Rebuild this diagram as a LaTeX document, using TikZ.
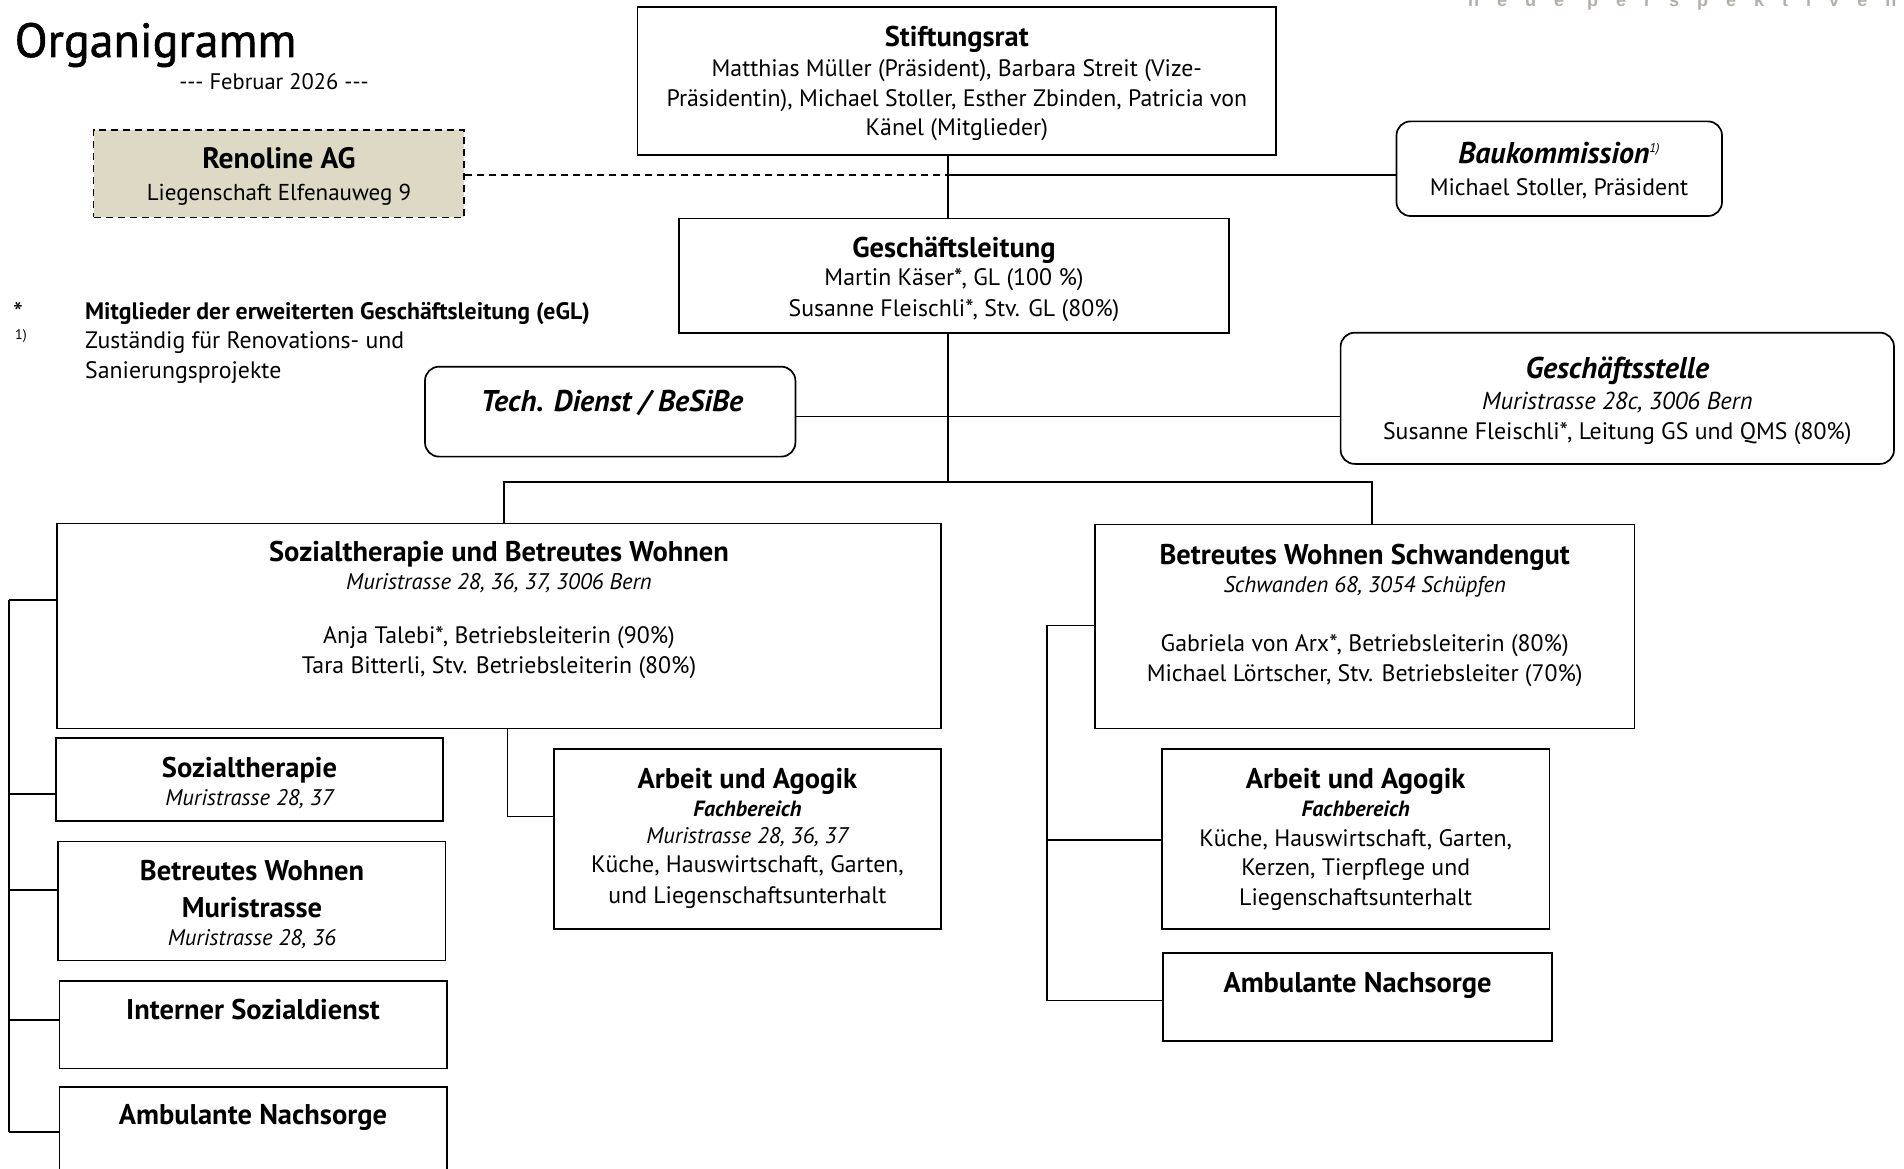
\documentclass[tikz,border=0pt]{standalone}
\usepackage{fontspec}
\setmainfont{PT Sans}
\newfontfamily\widefont[LetterSpace=100]{Liberation Sans}
\usetikzlibrary{fit}
\definecolor{renofill}{HTML}{DDD9C4}
\definecolor{logogray}{HTML}{B3AEA8}
\begin{document}
\begin{tikzpicture}[x=1pt,y=-1pt,
  box/.style={draw, line width=1.7pt, inner sep=0pt, rectangle},
  rbox/.style={box, rounded corners=14pt},
  ln/.style={line width=1.7pt},
  ttl/.style={font=\fontsize{28.5}{30}\selectfont\bfseries, anchor=base, align=center, inner sep=0pt},
  ttli/.style={font=\fontsize{30}{30}\selectfont\bfseries\itshape, anchor=base, align=center, inner sep=0pt},
  txt/.style={font=\fontsize{23.8}{30}\selectfont, anchor=base, align=center, inner sep=0pt},
  adr/.style={font=\fontsize{22.6}{24}\selectfont\itshape, anchor=base, align=center, inner sep=0pt},
  fach/.style={font=\fontsize{22}{24}\selectfont\bfseries\itshape, anchor=base, align=center, inner sep=0pt}]
\useasboundingbox (0,0) rectangle (1904,1169);

% logo text (cut at top)
\node[font=\widefont\fontsize{18}{18}\selectfont\bfseries, text=logogray, anchor=base west, inner sep=0pt] (logo) at (1468,6.5) {neue perspektiven};

% title
\node[font=\fontsize{48}{56}\selectfont\addfontfeature{FakeBold=1.2}, anchor=base west, inner sep=0pt] (title) at (14.6,57) {Organigramm};
\node[font=\fontsize{22.5}{30}\selectfont, anchor=base, inner sep=0pt] (date) at (274,90) {-{}-{}- Februar 2026 -{}-{}-};

% Renoline
\node[box, dashed, dash pattern=on 7pt off 5pt, fill=renofill, fit={(93.5,130) (464,217.5)}] (reno) {};
\node[ttl, font=\fontsize{29.5}{30}\selectfont\bfseries] (reno-t) at (279,169) {Renoline AG};
\node[txt, font=\fontsize{23}{30}\selectfont] (reno-b) at (279,201) {Liegenschaft Elfenauweg 9};

% Stiftungsrat
\node[box, fit={(637.5,7) (1276,155)}] (stift) {};
\node[ttl] (stift-t) at (956.8,46.5) {Stiftungsrat};
\node[txt, font=\fontsize{23.8}{29.5}\selectfont] (stift-b) at (956.8,136) {Matthias Müller (Präsident), Barbara Streit (Vize-\\Präsidentin), Michael Stoller, Esther Zbinden, Patricia von\\Känel (Mitglieder)};

% Baukommission
\node[rbox, fit={(1396.5,121.4) (1722,216)}] (bau) {};
\node[ttli] (bau-t) at (1559,164) {Baukommission{\fontsize{13}{13}\selectfont\mdseries\raisebox{11pt}{1)}}};
\node[txt] (bau-b) at (1559,196) {Michael Stoller, Präsident};

% Geschaeftsleitung
\node[box, fit={(679,218.5) (1229,333)}] (gl) {};
\node[ttl] (gl-t) at (954,258) {Geschäftsleitung};
\node[txt] (gl-b) at (954,316) {Martin Käser*, GL (100 \%)\\Susanne Fleischli*, Stv. GL (80\%)};

% legend
\node[font=\fontsize{28}{28}\selectfont, anchor=base west, inner sep=0pt] (leg-s) at (13,322) {*};
\node[font=\fontsize{23.8}{30}\selectfont\bfseries, anchor=base west, inner sep=0pt] (leg-a) at (85,319) {Mitglieder der erweiterten Geschäftsleitung (eGL)};
\node[font=\fontsize{14}{14}\selectfont, anchor=base west, inner sep=0pt] (leg-n) at (15,339) {1)};
\node[font=\fontsize{23.8}{30}\selectfont, anchor=base west, align=left, inner sep=0pt] (leg-b) at (85,378) {Zuständig für Renovations- und\\Sanierungsprojekte};

% Tech. Dienst
\node[rbox, fit={(425,366.7) (795.4,456.6)}] (tech) {};
\node[ttli] (tech-t) at (612,411) {Tech. Dienst / BeSiBe};

% Geschaeftsstelle
\node[rbox, fit={(1340.6,332.7) (1894,463.9)}] (gs) {};
\node[ttli] (gs-t) at (1617.3,378) {Geschäftsstelle};
\node[adr, font=\fontsize{24.5}{24}\selectfont\itshape] (gs-a) at (1617.3,409) {Muristrasse 28c, 3006 Bern};
\node[txt] (gs-b) at (1617.3,439) {Susanne Fleischli*, Leitung GS und QMS (80\%)};

% Sozialtherapie und Betreutes Wohnen
\node[box, fit={(57,523.4) (941,728.6)}] (st) {};
\node[ttl] (st-t) at (499,561) {Sozialtherapie und Betreutes Wohnen};
\node[adr] (st-a) at (499,589.5) {Muristrasse 28, 36, 37, 3006 Bern};
\node[txt] (st-b) at (499,673.5) {Anja Talebi*, Betriebsleiterin (90\%)\\Tara Bitterli, Stv. Betriebsleiterin (80\%)};

% Betreutes Wohnen Schwandengut
\node[box, fit={(1095,524.6) (1634.5,728.6)}] (bws) {};
\node[ttl] (bws-t) at (1364.7,564) {Betreutes Wohnen Schwandengut};
\node[adr] (bws-a) at (1364.7,592.5) {Schwanden 68, 3054 Schüpfen};
\node[txt, font=\fontsize{23.8}{29.4}\selectfont] (bws-b) at (1364.7,681) {Gabriela von Arx*, Betriebsleiterin (80\%)\\Michael Lörtscher, Stv. Betriebsleiter (70\%)};

% left column
\node[box, fit={(55.9,738.3) (443.2,820.9)}] (soz) {};
\node[ttl] (soz-t) at (249.5,777.5) {Sozialtherapie};
\node[adr] (soz-a) at (249.5,805.3) {Muristrasse 28, 37};

\node[box, fit={(58.3,841.5) (445.6,960.5)}] (bwm) {};
\node[ttl, font=\fontsize{28.5}{36.3}\selectfont\bfseries] (bwm-t) at (252,917) {Betreutes Wohnen\\Muristrasse};
\node[adr] (bwm-a) at (252,945) {Muristrasse 28, 36};

\node[box, fit={(59.5,981) (446.9,1068.6)}] (isd) {};
\node[ttl] (isd-t) at (253,1019) {Interner Sozialdienst};

\node[box, fit={(59.5,1086.8) (446.9,1230)}] (anl) {};
\node[ttl] (anl-t) at (253,1124.7) {Ambulante Nachsorge};

% Arbeit und Agogik (left)
\node[box, fit={(553.7,749.2) (941,928.9)}] (aal) {};
\node[ttl] (aal-t) at (747.4,788.4) {Arbeit und Agogik};
\node[fach] (aal-f) at (747.4,816) {Fachbereich};
\node[adr] (aal-a) at (747.4,843) {Muristrasse 28, 36, 37};
\node[txt, font=\fontsize{23.8}{30.4}\selectfont] (aal-b) at (747.4,903) {Küche, Hauswirtschaft, Garten,\\und Liegenschaftsunterhalt};

% Arbeit und Agogik (right)
\node[box, fit={(1162,749.2) (1549.4,928.9)}] (aar) {};
\node[ttl] (aar-t) at (1355.7,788.4) {Arbeit und Agogik};
\node[fach] (aar-f) at (1355.7,816) {Fachbereich};
\node[txt, font=\fontsize{23.8}{29.7}\selectfont] (aar-b) at (1355.7,905.4) {Küche, Hauswirtschaft, Garten,\\Kerzen, Tierpflege und\\Liegenschaftsunterhalt};

% Ambulante Nachsorge (right)
\node[box, fit={(1163.3,953.2) (1551.9,1040.7)}] (anr) {};
\node[ttl] (anr-t) at (1357.6,992.4) {Ambulante Nachsorge};

% connectors
\coordinate (j1) at (948,175);
\coordinate (j2) at (948,416.5);
\coordinate (j3) at (948,482);
\coordinate (jl) at (504,482);
\coordinate (jr) at (1372,482);
\draw[ln] (j1 |- stift.south) -- (j1 |- gl.north);
\draw[ln, dashed, dash pattern=on 7pt off 5pt] (j1 -| reno.east) -- (j1);
\draw[ln] (j1) -- (j1 -| bau.west);
\draw[ln] (j1 |- gl.south) -- (j3);
\draw[ln] (j2 -| tech.east) -- (j2 -| gs.west);
\draw[ln] (jl |- st.north) -- (jl) -- (jr) -- (jr |- bws.north);

% left bracket
\coordinate (lb1) at (9,600);
\coordinate (lb2) at (9,794);
\coordinate (lb3) at (9,890);
\coordinate (lb4) at (9,1020);
\coordinate (lb5) at (9,1131.7);
\draw[ln] (lb1) -- (lb5);
\draw[ln] (lb1) -- (lb1 -| st.west);
\draw[ln] (lb2) -- (lb2 -| soz.west);
\draw[ln] (lb3) -- (lb3 -| bwm.west);
\draw[ln] (lb4) -- (lb4 -| isd.west);
\draw[ln] (lb5) -- (lb5 -| anl.west);

% Arbeit left connector
\coordinate (al) at (507.6,816.5);
\draw[ln] (al |- st.south) -- (al) -- (al -| aal.west);

% right bracket
\coordinate (rb1) at (1046.7,625.4);
\coordinate (rb2) at (1046.7,840.3);
\coordinate (rb3) at (1046.7,1000.6);
\draw[ln] (rb1) -- (rb3);
\draw[ln] (rb1) -- (rb1 -| bws.west);
\draw[ln] (rb2) -- (rb2 -| aar.west);
\draw[ln] (rb3) -- (rb3 -| anr.west);
\end{tikzpicture}
\end{document}
